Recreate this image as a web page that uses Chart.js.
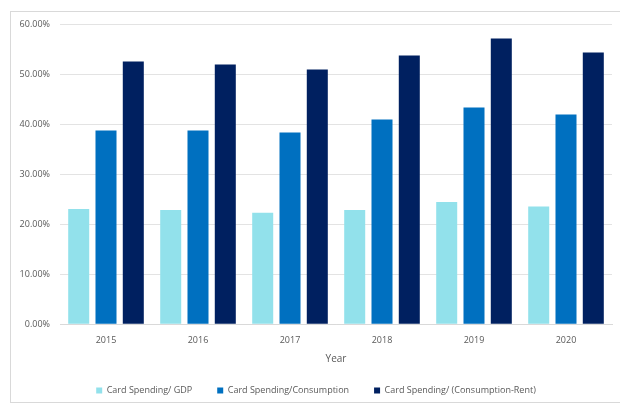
<html>
  <head>
    <script src="https://cdn.jsdelivr.net/npm/chart.js"></script>
    <style>
      body { margin: 0; overflow: hidden; background: #fff; }
      #frame { position: absolute; left: 10px; top: 11px; width: 640px; height: 390px; border: 1px solid #d9d9d9; }
      #wrap { position: absolute; left: 0; top: 0; width: 620px; height: 403px; }
    </style>
  </head>

  <body>
    <div id="frame"></div>
    <div id="wrap">
      <canvas id="myChart"></canvas>
    </div>
    <script>
      const years = ["2015", "2016", "2017", "2018", "2019", "2020"]
      const perGdp = [23.0, 22.8, 22.3, 22.8, 24.4, 23.5]
      const perConsumption = [38.7, 38.7, 38.3, 40.9, 43.3, 41.9]
      const perConsumptionLessRent = [52.5, 51.9, 50.9, 53.7, 57.1, 54.3]
      const yTicks = [0, 10, 20, 30, 40, 50, 60]

      const font = { family: "'Open Sans'", size: 9 }
      const gray = "#595959"

      const datasets = [
        { label: "Card Spending/ GDP", data: perGdp, backgroundColor: "#92e1eb" },
        { label: "Card Spending/Consumption", data: perConsumption, backgroundColor: "#0070c0" },
        { label: "Card Spending/ (Consumption-Rent)", data: perConsumptionLessRent, backgroundColor: "#002060" }
      ]
      datasets.forEach(function (d) {
        d.categoryPercentage = 0.89
        d.barPercentage = 0.77
      })

      // nudge the legend a little to the right, as in the original
      const legendShift = {
        id: "legendShift",
        afterLayout: function (chart) {
          chart.legend.left += 5
          chart.legend.right += 5
        }
      }

      const config = {
        type: "bar",
        data: { labels: years, datasets: datasets },
        plugins: [legendShift],
        options: {
          responsive: true,
          maintainAspectRatio: false,
          animation: false,
          layout: { padding: { top: 24, right: 8, left: 10, bottom: -2 } },
          plugins: {
            tooltip: { enabled: false },
            legend: {
              position: "bottom",
              labels: {
                font: font,
                color: gray,
                boxWidth: 6,
                boxHeight: 6,
                padding: 25
              }
            }
          },
          scales: {
            x: {
              grid: { display: false },
              border: { display: true, color: "#d9d9d9" },
              ticks: { font: font, color: gray, padding: 3 },
              title: { display: true, text: "Year", font: { family: "'Open Sans'", size: 10, lineHeight: 1 }, color: gray, padding: { top: 5, bottom: -3 } }
            },
            y: {
              min: 0,
              max: 60,
              afterBuildTicks: function (scale) {
                scale.ticks = yTicks.map(function (v) { return { value: v } })
              },
              afterFit: function (scale) { scale.width = 50 },
              grid: { color: "#e3e3e3", drawTicks: false },
              border: { display: false },
              ticks: {
                font: font,
                color: gray,
                padding: 10,
                callback: function (v) { return v.toFixed(2) + "%" }
              }
            }
          }
        }
      }
      const myChart = new Chart(document.getElementById("myChart"), config)
    </script>
  </body>
</html>
